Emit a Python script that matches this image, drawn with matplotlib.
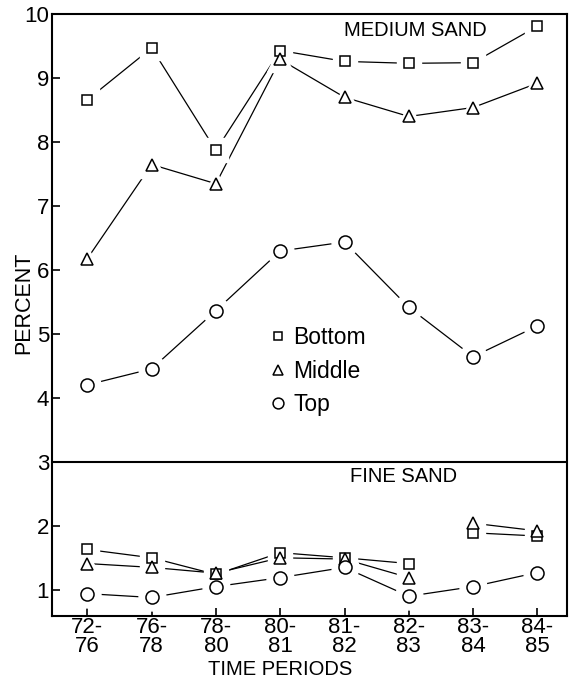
import numpy as np
import matplotlib.pyplot as plt

# ── data ──────────────────────────────────────────────────────────────────────
periods = ["72-\n76", "76-\n78", "78-\n80", "80-\n81", "81-\n82", "82-\n83", "83-\n84", "84-\n85"]

medium_bottom = [8.66, 9.47, 7.87, 9.43, 9.26, 9.23, 9.24, 9.81]
medium_middle = [6.18, 7.65, 7.35, 9.29, 8.70, 8.40, 8.54, 8.92]
medium_top    = [4.21, 4.46, 5.37, 6.30, 6.44, 5.42, 4.65, 5.13]

fine_bottom = [1.64, 1.51, 1.25, 1.59, 1.51, 1.42, 1.90, 1.85]
fine_middle = [1.42, 1.36, 1.27, 1.51, 1.49, 1.20, 2.05, 1.93]
fine_top    = [0.95, 0.89, 1.06, 1.20, 1.36, 0.91, 1.06, 1.28]

y_ticks = [1, 2, 3, 4, 5, 6, 7, 8, 9, 10]

# ── style ─────────────────────────────────────────────────────────────────────
plt.rcParams.update({
    'font.family': ['Liberation Sans', 'DejaVu Sans'],
    'font.size': 14,
})

x = np.arange(len(periods))

fig = plt.figure(figsize=(5.71, 6.83), dpi=100)
ax = fig.add_axes([0.091, 0.098, 0.902, 0.8815])

line_kw = dict(color='black', lw=0.9, zorder=2)
marker_size = {'s': 7.4, '^': 9.0, 'o': 9.4}


def draw_series(xs, ys, marker, segments=None):
    """Line with hollow markers; a white halo under each marker leaves a gap."""
    xs = np.asarray(xs)
    ys = np.asarray(ys)
    if segments is None:
        segments = [(0, len(xs))]
    for a, b in segments:
        ax.plot(xs[a:b], ys[a:b], **line_kw)
    ms = marker_size[marker]
    ax.plot(xs, ys, ls='none', marker=marker, ms=ms + 10, mfc='white',
            mec='white', zorder=3)
    return (xs, ys, marker, ms)


def draw_markers(item):
    xs, ys, marker, ms = item
    ax.plot(xs, ys, ls='none', marker=marker, ms=ms, mfc='white',
            mec='black', mew=1.1, zorder=4)


# medium sand (upper panel)
items = [
    draw_series(x, medium_bottom, 's'),
    draw_series(x, medium_middle, '^'),
    draw_series(x, medium_top, 'o'),
]
# fine sand (lower panel) - bottom and middle not joined across 82-83 / 83-84
split = [(0, 6), (6, 8)]
items += [
    draw_series(x, fine_bottom, 's', segments=split),
    draw_series(x, fine_middle, '^', segments=split),
    draw_series(x, fine_top, 'o'),
]
for it in items:
    draw_markers(it)

# divider between the two panels
ax.axhline(3, color='black', lw=1.5, zorder=5)

ax.text(0.705, 0.972, "MEDIUM SAND", transform=ax.transAxes, fontsize=14.5,
        ha='center', va='center')
ax.text(0.682, 0.231, "FINE SAND", transform=ax.transAxes, fontsize=14.5,
        ha='center', va='center')

# legend
handles = [
    plt.Line2D([], [], ls='none', marker='s', ms=6.2, mfc='white', mec='black', mew=1.1),
    plt.Line2D([], [], ls='none', marker='^', ms=7.5, mfc='white', mec='black', mew=1.1),
    plt.Line2D([], [], ls='none', marker='o', ms=7.8, mfc='white', mec='black', mew=1.1),
]
ax.legend(handles, ["Bottom", "Middle", "Top"], loc='upper left',
          bbox_to_anchor=(0.404, 0.50), frameon=False, handlelength=0.6,
          handletextpad=0.35, labelspacing=0.44, borderpad=0, fontsize=16.5)

# axes
ax.set_xlim(-0.55, 7.46)
ax.set_ylim(0.6, 10)
ax.set_xticks(x)
ax.set_xticklabels(periods, linespacing=0.85, fontsize=16)
ax.set_yticks(y_ticks)
ax.set_yticklabels([str(v) for v in y_ticks])
ax.tick_params(direction='in', length=6, width=1.2, labelsize=16, pad=2)
ax.tick_params(axis='x', pad=1)
for sp in ax.spines.values():
    sp.set_linewidth(1.5)
    sp.set_zorder(6)  # keep the frame above the white marker halos

ax.set_ylabel("PERCENT", fontsize=15.5)
ax.yaxis.set_label_coords(-0.034, 0.52)
ax.set_xlabel("TIME PERIODS", fontsize=14.5)
ax.xaxis.set_label_coords((280 - 52) / 515, -0.073)

fig.savefig("out.png", dpi=100)
